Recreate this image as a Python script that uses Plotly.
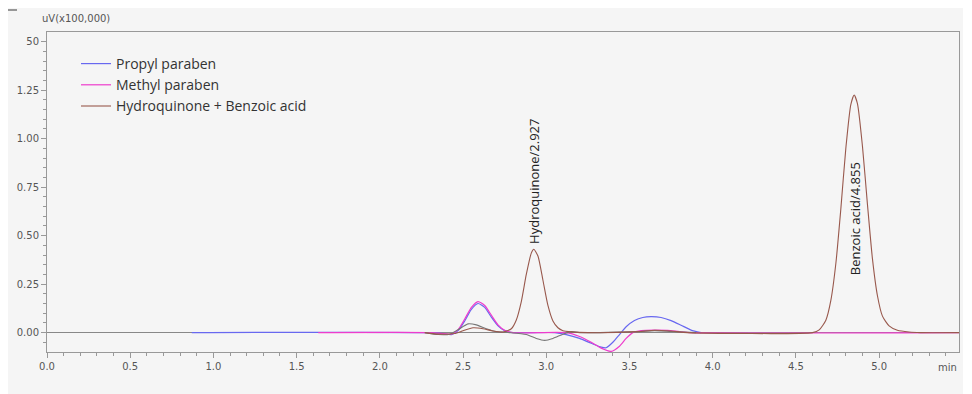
import plotly.graph_objects as go

# ---- data ----
propyl_t = [0.87, 2.30, 2.38, 2.43, 2.47, 2.51, 2.55, 2.59, 2.63, 2.67, 2.71, 2.75, 2.80,
            3.05, 3.12, 3.20, 3.27, 3.33, 3.36, 3.40, 3.44, 3.48, 3.53, 3.58, 3.63, 3.69,
            3.75, 3.81, 3.87, 3.93]
propyl_v = [0.0, 0.0, -0.005, -0.01, 0.01, 0.06, 0.12, 0.15, 0.13, 0.08, 0.035, 0.01, 0.0,
            0.0, -0.01, -0.03, -0.055, -0.075, -0.078, -0.05, -0.01, 0.03, 0.062, 0.078, 0.082, 0.078,
            0.062, 0.038, 0.013, 0.0]

methyl_t = [1.63, 2.30, 2.38, 2.43, 2.47, 2.51, 2.55, 2.59, 2.63, 2.67, 2.71, 2.75, 2.80,
            3.12, 3.20, 3.27, 3.33, 3.39, 3.44, 3.48, 3.52, 3.57, 3.65, 3.73, 3.80, 3.87, 5.48]
methyl_v = [0.0, 0.0, -0.005, -0.008, 0.015, 0.07, 0.13, 0.16, 0.14, 0.09, 0.04, 0.012, 0.0,
            0.0, -0.02, -0.05, -0.08, -0.097, -0.07, -0.03, 0.0, 0.01, 0.013, 0.011, 0.005, 0.0, 0.0]

blank_t = [2.27, 2.35, 2.42, 2.47, 2.53, 2.58, 2.64, 2.70, 2.78, 2.88, 2.94, 2.99, 3.04,
           3.10, 3.15, 3.20, 3.55, 3.65, 3.75, 3.90]
blank_v = [0.0, -0.01, -0.008, 0.015, 0.045, 0.04, 0.02, 0.005, 0.0, -0.01, -0.03, -0.04, -0.03,
           -0.008, 0.005, 0.0, 0.005, 0.01, 0.006, 0.0]

hqba_t = [2.27, 2.35, 2.45, 2.50, 2.56, 2.62, 2.68, 2.74, 2.79, 2.82, 2.85, 2.88, 2.91, 2.925,
          2.95, 2.98, 3.01, 3.04, 3.07, 3.10, 3.15, 3.25, 3.55, 3.65, 3.75, 3.85, 4.60,
          4.64, 4.68, 4.71, 4.74, 4.77, 4.80, 4.83, 4.85, 4.87, 4.90, 4.93, 4.96, 4.99,
          5.02, 5.06, 5.11, 5.18, 5.25, 5.48]
hqba_v = [0.0, -0.008, -0.005, 0.01, 0.025, 0.02, 0.008, 0.003, 0.02, 0.065, 0.16, 0.30, 0.41, 0.43,
          0.395, 0.27, 0.14, 0.06, 0.025, 0.01, 0.004, 0.0, 0.005, 0.012, 0.008, 0.0, 0.0,
          0.014, 0.064, 0.166, 0.356, 0.638, 0.95, 1.176, 1.225, 1.18, 0.96, 0.66, 0.38, 0.19,
          0.085, 0.035, 0.012, 0.003, 0.0, 0.0]

series_names = ["Propyl paraben", "Methyl paraben", "Hydroquinone + Benzoic acid"]
x_tickvals = [0.0, 0.5, 1.0, 1.5, 2.0, 2.5, 3.0, 3.5, 4.0, 4.5, 5.0]
x_ticktext = ["0.0", "0.5", "1.0", "1.5", "2.0", "2.5", "3.0", "3.5", "4.0", "4.5", "5.0"]
y_tickvals = [0.0, 0.25, 0.5, 0.75, 1.0, 1.25, 1.5]
y_ticktext = ["0.00", "0.25", "0.50", "0.75", "1.00", "1.25", "50"]
peak_labels = [("Hydroquinone/2.927", 2.927, 0.445, "bottom"),
               ("Benzoic acid/4.855", 4.855, 0.59, "middle")]

# ---- figure (page has an 8px body margin) ----
OFF = 8
W, H = 972 - OFF, 394 - OFF
PL, PR, PT, PB = 47, 959, 32, 352          # plot area in page pixels
L, R, T, B = PL - OFF, (OFF + W) - PR, PT - OFF, (OFF + H) - PB
pw, ph = PR - PL, PB - PT

def px(xp):
    return (xp - PL) / pw

def py(yp):
    return (PB - yp) / ph

fig = go.Figure()
fig.add_trace(go.Scatter(x=propyl_t, y=propyl_v, mode="lines", name=series_names[0],
                         line=dict(color="#6868f0", width=1.2, shape="spline", smoothing=0.6)))
fig.add_trace(go.Scatter(x=methyl_t, y=methyl_v, mode="lines", name=series_names[1],
                         line=dict(color="#ee3ccc", width=1.2, shape="spline", smoothing=0.6)))
fig.add_trace(go.Scatter(x=blank_t, y=blank_v, mode="lines", showlegend=False,
                         line=dict(color="#777777", width=1.1, shape="spline", smoothing=0.6)))
fig.add_trace(go.Scatter(x=hqba_t, y=hqba_v, mode="lines", name=series_names[2],
                         line=dict(color="#98584c", width=1.1, shape="spline", smoothing=0.6)))

for txt, xv, yv, ya in peak_labels:
    fig.add_annotation(x=xv, y=yv, xref="x", yref="y", text=txt, textangle=-90,
                       showarrow=False, xanchor="center", yanchor=ya,
                       font=dict(family="Open Sans", size=13, color="#222222"))

fig.add_annotation(x=5.48, y=py(367), xref="x", yref="paper", text="min", showarrow=False,
                   xanchor="right", yanchor="middle",
                   font=dict(family="DejaVu Sans", size=10, color="#555555"))
fig.add_annotation(x=px(40), y=py(18), xref="paper", yref="paper", text="uV(x100,000)",
                   showarrow=False, xanchor="left", yanchor="middle",
                   font=dict(family="DejaVu Sans", size=10, color="#555555"))

# white strip at the right edge, and the small mark top-left
fig.add_shape(type="rect", xref="paper", yref="paper", fillcolor="white",
              line=dict(width=0), layer="below",
              x0=px(963), x1=px(975), y0=py(396), y1=py(5))
fig.add_shape(type="line", xref="paper", yref="paper", x0=px(8), x1=px(17), y0=py(10), y1=py(10),
              line=dict(color="#777777", width=1.5))

fig.update_layout(
    width=W, height=H,
    margin=dict(l=L, r=R, t=T, b=B, autoexpand=False),
    paper_bgcolor="#f5f5f5", plot_bgcolor="#f5f5f5",
    font=dict(family="DejaVu Sans", size=10, color="#555555"),
    showlegend=True,
    legend=dict(x=px(76), y=py(48), xanchor="left", yanchor="top",
                bgcolor="rgba(0,0,0,0)", font=dict(family="Open Sans", size=14, color="#333333"),
                tracegroupgap=0, itemwidth=30),
)
fig.update_xaxes(range=[0, 5.48], tickvals=x_tickvals, ticktext=x_ticktext,
                 showgrid=False, zeroline=False, showline=True, linecolor="#999999", linewidth=1,
                 mirror=True, ticks="outside", ticklen=5, tickcolor="#999999",
                 minor=dict(dtick=0.1, ticks="outside", ticklen=3, tickcolor="#999999", showgrid=False),
                 tickfont=dict(family="DejaVu Sans", size=10, color="#555555"))
fig.update_yaxes(range=[-0.1, 1.55], tickvals=y_tickvals, ticktext=y_ticktext,
                 showgrid=False, zeroline=True, zerolinecolor="#888888", zerolinewidth=1,
                 showline=True, linecolor="#999999", linewidth=1,
                 mirror=True, ticks="outside", ticklen=5, tickcolor="#999999",
                 minor=dict(tickvals=[-0.05, 0.05, 0.1, 0.15, 0.2, 0.3, 0.35, 0.4, 0.45, 0.55, 0.6, 0.65,
                                      0.7, 0.8, 0.85, 0.9, 0.95, 1.05, 1.1, 1.15, 1.2, 1.3, 1.35, 1.4, 1.45],
                            ticks="outside", ticklen=3, tickcolor="#999999", showgrid=False),
                 tickfont=dict(family="DejaVu Sans", size=10, color="#555555"))

fig.write_html("out.html")
